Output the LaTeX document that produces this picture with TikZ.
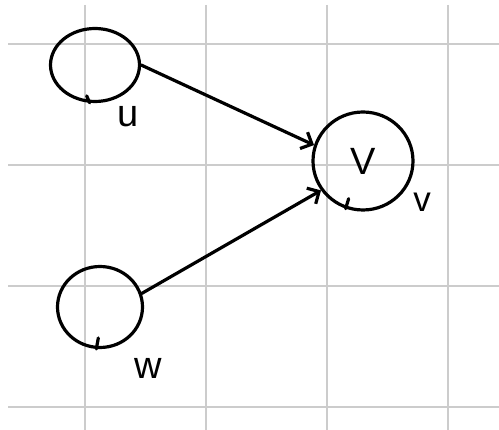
\documentclass[tikz,border=0pt]{standalone}
\usepackage{fontspec}
\setmainfont{Liberation Sans}
\usetikzlibrary{arrows.meta,shapes.geometric}
\begin{document}
\begin{tikzpicture}[x=1pt,y=-1pt,
  gridline/.style={draw=gray!40, line width=1.5pt},
  pen/.style={line width=3.2pt, line cap=round, line join=round},
  blob/.style={draw, ellipse, pen, inner sep=0pt},
  lbl/.style={inner sep=0pt, font=\fontsize{38}{40}\selectfont},
  edgearrow/.style={pen, -{Straight Barb[length=9pt,width=18pt]}}]
\useasboundingbox (0,0) rectangle (499,430);
\fill[white] (0,0) rectangle (499,430);
\foreach \x in {85,206,327,448} \draw[gridline] (\x,5) -- (\x,430);
\foreach \y in {44,165,286,407} \draw[gridline] (8,\y) -- (499,\y);
% nodes
\node[blob, minimum width=89pt, minimum height=73pt] (u) at (95,65) {};
\node[blob, minimum width=100pt, minimum height=98pt, font=\fontsize{38}{40}\selectfont] (v) at (363,161) {V};
\node[blob, minimum width=85pt, minimum height=81pt] (w) at (100,307) {};
% pen notches
\draw[pen] (u.262) .. controls ++(-1,-3) .. ++(-3,-7);
\draw[pen] (w.265) .. controls ++(1,-5) .. ++(2,-11);
\draw[pen] (v.250) .. controls ++(1,-5) .. ++(3,-10);
% labels
\node[lbl] (ul) at (128,117) {u};
\node[lbl, font=\fontsize{35}{37}\selectfont] (vl) at (422,202) {v};
\node[lbl] (wl) at (148,368) {w};
% connectors
\draw[edgearrow] (u.east) -- (v.162);
\draw[edgearrow] (w.18) -- (v.215);
\end{tikzpicture}
\end{document}
